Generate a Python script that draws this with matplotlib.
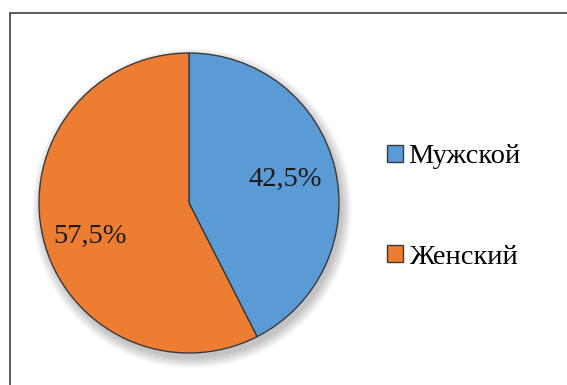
import matplotlib
matplotlib.use("Agg")
import matplotlib.pyplot as plt
from matplotlib.lines import Line2D
from matplotlib.patches import Patch, Circle

categories = ["Мужской", "Женский"]
shares = [42.5, 57.5]
colors = ["#5B9BD5", "#ED7D31"]

plt.rcParams["font.family"] = ["Liberation Serif", "DejaVu Serif"]

W, H = 567, 385
fig = plt.figure(figsize=(W / 100, H / 100), dpi=100)
fig.patch.set_facecolor("white")

# Pie axes: radius 1 spans 150 px
R = 150
cx, cy = 189, 203
ax = fig.add_axes([(cx - R) / W, (H - cy - R) / H, 2 * R / W, 2 * R / H])

def pct_label(p):
    return f"{p:.1f}%".replace(".", ",")

wedges, texts, autotexts = ax.pie(
    shares, colors=colors, startangle=90, counterclock=False, radius=1,
    autopct=pct_label, pctdistance=0.66,
    wedgeprops=dict(edgecolor="#3a3a3a", linewidth=1.0),
    textprops=dict(fontsize=20.5, color="#1a1a1a"),
)
for w in wedges:
    w.set_zorder(2)
for t in autotexts:
    t.set_zorder(3)
# the larger slice's label sits a little lower inside its wedge
autotexts[1].set_position((-0.66, -0.225))

ax.set_xlim(-1, 1)
ax.set_ylim(-1, 1)
ax.set_aspect("equal")
ax.axis("off")

# soft drop shadow under the pie
for i in range(12):
    ax.add_patch(Circle((0.02, -0.035), 1.0 + 0.006 * i, color="#000000",
                        alpha=0.018, lw=0, zorder=0, clip_on=False))

# legend on the right
handles = [Patch(facecolor=c, edgecolor="#3a3a3a", linewidth=1.0) for c in colors]
fig.legend(handles, categories, loc="upper left",
           bbox_to_anchor=(373 / W, 1 - 130 / H), frameon=False,
           fontsize=20.5, handlelength=0.55, handleheight=0.55,
           handletextpad=0.2, labelspacing=2.65, borderpad=0)

# chart frame edges
fig.add_artist(Line2D([10 / W, 1], [1 - 13 / H, 1 - 13 / H], color="#5a5a5a",
                      lw=1.4, transform=fig.transFigure))
fig.add_artist(Line2D([10 / W, 10 / W], [0, 1 - 13 / H], color="#5a5a5a",
                      lw=1.4, transform=fig.transFigure))

fig.savefig("out.png", dpi=100)
